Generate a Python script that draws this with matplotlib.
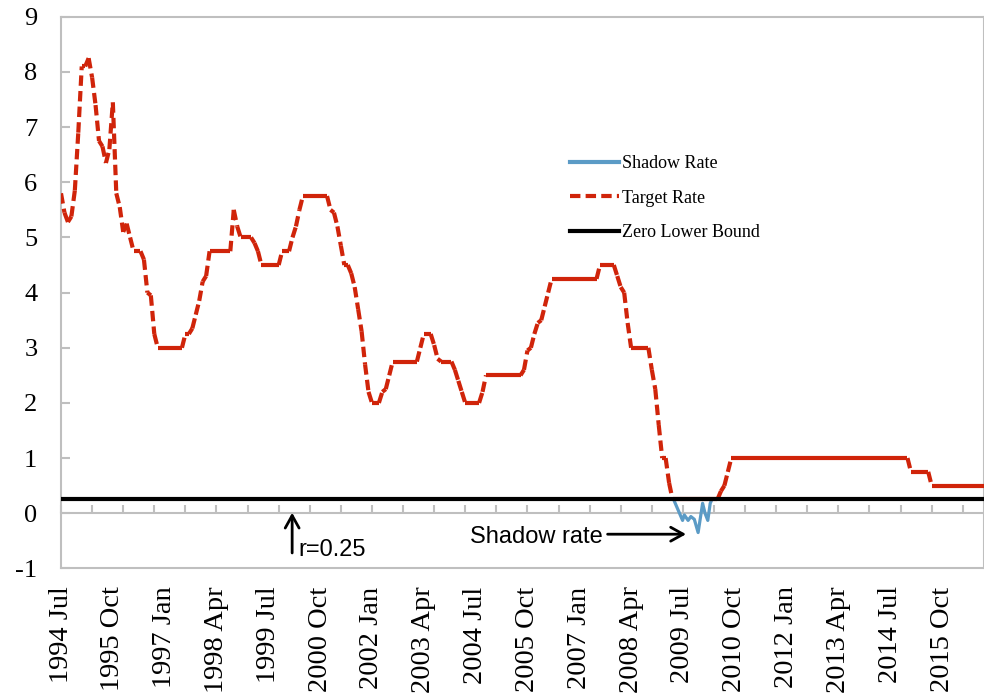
import numpy as np
import matplotlib
matplotlib.use('Agg')
import matplotlib.pyplot as plt
from matplotlib.collections import LineCollection
from matplotlib.lines import Line2D

plt.rcParams['axes.unicode_minus'] = False

# monthly observations, 1994 Jul .. 2016 Oct (one row = Jul..Jun)
target_rate = [
    5.8, 5.45, 5.28, 5.38, 5.85, 6.9, 8.1, 8.1, 8.25, 7.9, 7.4, 6.75,
    6.65, 6.35, 6.6, 7.45, 5.8, 5.55, 5.1, 5.25, 5.0, 4.75, 4.75, 4.75,
    4.6, 4.0, 3.95, 3.25, 3.0, 3.0, 3.0, 3.0, 3.0, 3.0, 3.0, 3.0,
    3.25, 3.25, 3.35, 3.6, 3.85, 4.2, 4.3, 4.75, 4.75, 4.75, 4.75, 4.75,
    4.75, 4.75, 5.5, 5.2, 5.0, 5.0, 5.0, 5.0, 4.9, 4.75, 4.5, 4.5,
    4.5, 4.5, 4.5, 4.5, 4.75, 4.75, 4.75, 5.0, 5.2, 5.5, 5.75, 5.75,
    5.75, 5.75, 5.75, 5.75, 5.75, 5.75, 5.5, 5.45, 5.2, 4.85, 4.5, 4.5,
    4.35, 4.1, 3.7, 3.3, 2.7, 2.2, 2.0, 2.0, 2.0, 2.2, 2.25, 2.5,
    2.75, 2.75, 2.75, 2.75, 2.75, 2.75, 2.75, 2.75, 3.0, 3.25, 3.25, 3.25,
    3.05, 2.8, 2.75, 2.75, 2.75, 2.75, 2.6, 2.4, 2.2, 2.0, 2.0, 2.0,
    2.0, 2.0, 2.2, 2.5, 2.5, 2.5, 2.5, 2.5, 2.5, 2.5, 2.5, 2.5,
    2.5, 2.5, 2.6, 2.95, 3.0, 3.25, 3.45, 3.5, 3.75, 4.0, 4.25, 4.25,
    4.25, 4.25, 4.25, 4.25, 4.25, 4.25, 4.25, 4.25, 4.25, 4.25, 4.25, 4.25,
    4.5, 4.5, 4.5, 4.5, 4.5, 4.3, 4.1, 4.0, 3.45, 3.0, 3.0, 3.0,
    3.0, 3.0, 3.0, 2.6, 2.25, 1.6, 1.0, 1.0, 0.55, 0.25, 0.25, 0.25,
    0.25, 0.25, 0.25, 0.25, 0.25, 0.25, 0.25, 0.25, 0.25, 0.25, 0.25, 0.4,
    0.5, 0.75, 1.0, 1.0, 1.0, 1.0, 1.0, 1.0, 1.0, 1.0, 1.0, 1.0,
    1.0, 1.0, 1.0, 1.0, 1.0, 1.0, 1.0, 1.0, 1.0, 1.0, 1.0, 1.0,
    1.0, 1.0, 1.0, 1.0, 1.0, 1.0, 1.0, 1.0, 1.0, 1.0, 1.0, 1.0,
    1.0, 1.0, 1.0, 1.0, 1.0, 1.0, 1.0, 1.0, 1.0, 1.0, 1.0, 1.0,
    1.0, 1.0, 1.0, 1.0, 1.0, 1.0, 0.75, 0.75, 0.75, 0.75, 0.75, 0.75,
    0.5, 0.5, 0.5, 0.5, 0.5, 0.5, 0.5, 0.5, 0.5, 0.5, 0.5, 0.5,
    0.5, 0.5, 0.5, 0.5,
]
months = np.arange(len(target_rate))

# shadow rate (months since 1994 Jul, finer than monthly)
shadow_x = [177.3, 179.9, 180.4, 181.5, 182.3, 183.3, 184.4, 185.7, 186.4, 187.2, 187.9, 188.4]
shadow_rate = [0.25, -0.13, -0.03, -0.13, -0.06, -0.11, -0.35, 0.18, 0.0, -0.13, 0.18, 0.25]

zero_lower_bound = 0.25

tick_labels = ['1994 Jul', '1995 Oct', '1997 Jan', '1998 Apr', '1999 Jul', '2000 Oct',
               '2002 Jan', '2003 Apr', '2004 Jul', '2005 Oct', '2007 Jan', '2008 Apr',
               '2009 Jul', '2010 Oct', '2012 Jan', '2013 Apr', '2014 Jul', '2015 Oct']

red = '#d0240a'
blue = '#5b9bc6'
grey = '#bfbfbf'
serif = 'Liberation Serif'
sans = 'Liberation Sans'
dash = (0, (2.5, 1.25))

fig = plt.figure(figsize=(9.84, 7), dpi=100)
ax = fig.add_axes([0.062, 0.188, 0.9375, 0.788])

ax.plot(shadow_x, shadow_rate, color=blue, lw=2.3, zorder=3)

# dash pattern restarts on every monthly segment, like the original
pts = np.column_stack([months, target_rate])
segs = np.stack([pts[:-1], pts[1:]], axis=1)
lc = LineCollection(segs, colors=red, linewidths=3.0, linestyles=[dash],
                    capstyle='butt', zorder=4)
ax.add_collection(lc)

ax.plot(months, [zero_lower_bound] * len(months), color='black', lw=3, zorder=5)

ax.set_xlim(0, len(months) - 1)
ax.set_ylim(-1, 9)

for s in ax.spines.values():
    s.set_color(grey)
    s.set_linewidth(1.5)

ax.set_yticks(range(-1, 10))
ax.tick_params(axis='y', direction='in', length=6.5, width=1.5, color=grey,
               labelsize=19, pad=17)
ax.set_xticks(months[::15])
ax.set_xticklabels(tick_labels, rotation=90)
ax.tick_params(axis='x', length=0, labelsize=20.5, pad=13)
for lab in ax.get_xticklabels() + ax.get_yticklabels():
    lab.set_fontfamily(serif)

# horizontal axis crossing at zero
sec = ax.secondary_xaxis(0.1)
sec.set_xticks(months[::9])
sec.tick_params(direction='in', length=6, width=1.5, color=grey, labelbottom=False)
sec.spines['bottom'].set_color(grey)
sec.spines['bottom'].set_linewidth(1.5)

handles = [Line2D([], [], color=blue, lw=3),
           Line2D([], [], color=red, lw=3.0, ls=dash, dash_capstyle='butt'),
           Line2D([], [], color='black', lw=3)]
ax.legend(handles, ['Shadow Rate', 'Target Rate', 'Zero Lower Bound'],
          loc='upper left', bbox_to_anchor=(0.5515, 0.749), frameon=False,
          borderpad=0, borderaxespad=0, handlelength=2.75, handletextpad=0.17,
          labelspacing=0.96, prop={'family': serif, 'size': 13})

ax.annotate('', xy=(66.9, 0.01), xytext=(66.9, -0.72),
            arrowprops=dict(arrowstyle='->,head_length=0.45,head_width=0.25',
                            lw=2, color='black', shrinkA=0, shrinkB=0,
                            mutation_scale=20))
ax.text(68.7, -0.78, 'r=0.25', family=sans, fontsize=17, va='baseline', ha='left')

ax.annotate('', xy=(180.9, -0.38), xytext=(158.2, -0.38),
            arrowprops=dict(arrowstyle='->,head_length=0.45,head_width=0.25',
                            lw=2, color='black', shrinkA=0, shrinkB=0,
                            mutation_scale=20))
ax.text(156.7, -0.54, 'Shadow rate', family=sans, fontsize=17, va='baseline', ha='right')

fig.savefig('out.png', dpi=100)
